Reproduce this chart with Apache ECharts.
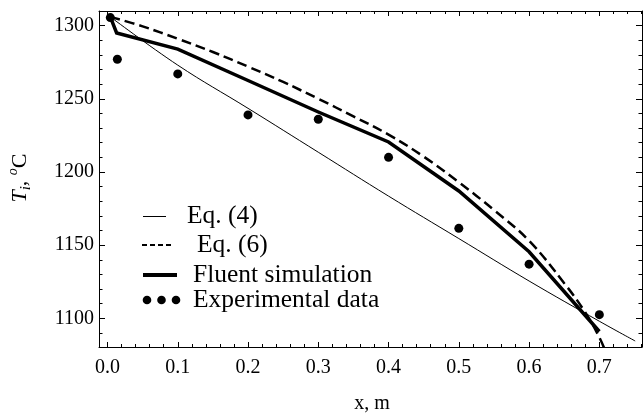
<!DOCTYPE html>
<html>
<head>
<meta charset="utf-8">
<script src="https://cdn.jsdelivr.net/npm/echarts@6/dist/echarts.min.js"></script>
<style>
  html, body { margin: 0; padding: 0; background: #fff; }
  #chart { width: 643px; height: 413px; }
</style>
</head>
<body>
<div id="chart"></div>
<script>
// Interface temperature T_i along the strand, x in metres

// Eq. (4): thin solid curve
const eq4X = [0.004, 0.1, 0.2, 0.3, 0.4, 0.5, 0.6, 0.7, 0.751];
const eq4T = [1306, 1273, 1243.5, 1213.5, 1183.5, 1154.5, 1125.5, 1098, 1084.5];

// Eq. (6): dashed curve
const eq6X = [0.004, 0.05, 0.1, 0.15, 0.2, 0.25, 0.3, 0.35, 0.4, 0.45, 0.5, 0.55, 0.6, 0.65, 0.68, 0.7, 0.71];
const eq6T = [1306, 1299.5, 1291, 1282, 1272, 1261.5, 1250, 1238, 1225.5, 1210.5, 1193, 1174, 1153, 1124, 1104, 1087, 1076];

// Fluent simulation: thick polyline
const fluentX = [0.004, 0.013, 0.1, 0.2, 0.3, 0.4, 0.5, 0.6, 0.7];
const fluentT = [1306, 1295, 1284, 1262.5, 1241, 1220.5, 1187, 1145.5, 1091];

// Experimental data: filled dots
const expX = [0.004, 0.014, 0.1, 0.2, 0.3, 0.4, 0.5, 0.6, 0.7];
const expT = [1305.5, 1277, 1267, 1239, 1236, 1210, 1161.5, 1137, 1102.5];

// Axis ranges and tick marks
const xMin = -0.0121, xMax = 0.7607;
const yMin = 1080.4, yMax = 1310;
const xMajor = [0, 0.1, 0.2, 0.3, 0.4, 0.5, 0.6, 0.7];
const xMinor = [0.02, 0.04, 0.06, 0.08, 0.12, 0.14, 0.16, 0.18, 0.22, 0.24, 0.26, 0.28,
                0.32, 0.34, 0.36, 0.38, 0.42, 0.44, 0.46, 0.48, 0.52, 0.54, 0.56, 0.58,
                0.62, 0.64, 0.66, 0.68, 0.72, 0.74, 0.76];
const yMajor = [1100, 1150, 1200, 1250, 1300];
const yMinor = [1090, 1110, 1120, 1130, 1140, 1160, 1170, 1180, 1190, 1210, 1220, 1230, 1240,
                1260, 1270, 1280, 1290, 1310];

const FONT = 'Liberation Serif';
const zip = (xs, ys) => xs.map((x, i) => [x, ys[i]]);

function xAxisDef(pos, ticks, len, labels, line) {
  return {
    type: 'value', position: pos, min: xMin, max: xMax,
    axisLine: { show: line, onZero: false, lineStyle: { color: '#000', width: 1 } },
    axisTick: { show: true, inside: true, length: len, customValues: ticks,
                lineStyle: { color: '#000', width: 1 } },
    axisLabel: labels ? { show: true, customValues: xMajor, margin: 11,
                          formatter: v => v.toFixed(1),
                          color: '#000', fontFamily: FONT, fontSize: 20 } : { show: false },
    splitLine: { show: false }
  };
}
function yAxisDef(pos, ticks, len, labels, line) {
  return {
    type: 'value', position: pos, min: yMin, max: yMax,
    axisLine: { show: line, onZero: false, lineStyle: { color: '#000', width: 1 } },
    axisTick: { show: true, inside: true, length: len, customValues: ticks,
                lineStyle: { color: '#000', width: 1 } },
    axisLabel: labels ? { show: true, customValues: yMajor, margin: 5,
                          formatter: v => String(Math.round(v)),
                          color: '#000', fontFamily: FONT, fontSize: 20 } : { show: false },
    splitLine: { show: false }
  };
}

// Legend rows drawn as graphic elements
const legendRows = [
  { y: 216.5, label: 'Eq. (4)', tx: 187 },
  { y: 245, label: 'Eq. (6)', tx: 197 },
  { y: 275, label: 'Fluent simulation', tx: 193 },
  { y: 300, label: 'Experimental data', tx: 193 }
];
const legendGraphics = [
  { type: 'line', shape: { x1: 143, y1: 216.5, x2: 166, y2: 216.5 },
    style: { stroke: '#000', lineWidth: 1 } },
  { type: 'line', shape: { x1: 142, y1: 245, x2: 172, y2: 245 },
    style: { stroke: '#000', lineWidth: 2, lineDash: [5, 3] } },
  { type: 'line', shape: { x1: 143, y1: 275, x2: 177, y2: 275 },
    style: { stroke: '#000', lineWidth: 4 } },
  { type: 'circle', shape: { cx: 147, cy: 300, r: 4.3 }, style: { fill: '#000' } },
  { type: 'circle', shape: { cx: 161.5, cy: 300, r: 4.3 }, style: { fill: '#000' } },
  { type: 'circle', shape: { cx: 176, cy: 300, r: 4.3 }, style: { fill: '#000' } }
].concat(legendRows.map(r => ({
  type: 'text', x: r.tx, y: r.y,
  style: { text: r.label, fill: '#000', font: '25.5px "' + FONT + '"', textVerticalAlign: 'middle' }
})));

const chart = echarts.init(document.getElementById('chart'), null, { renderer: 'canvas' });
chart.setOption({
  animation: false,
  backgroundColor: '#fff',
  grid: { left: 99, top: 11, width: 543, height: 336, containLabel: false },
  xAxis: [
    xAxisDef('bottom', xMajor, 5, true, true),
    xAxisDef('bottom', xMinor, 3, false, false),
    xAxisDef('top', xMajor, 5, false, true),
    xAxisDef('top', xMinor, 3, false, false)
  ],
  yAxis: [
    yAxisDef('left', yMajor, 6, true, true),
    yAxisDef('left', yMinor, 3.5, false, false),
    yAxisDef('right', yMajor, 6, false, true),
    yAxisDef('right', yMinor, 3.5, false, false)
  ],
  series: [
    { name: 'Eq. (4)', type: 'line', data: zip(eq4X, eq4T), smooth: 0.4,
      symbol: 'none', clip: true, lineStyle: { color: '#000', width: 1 } },
    { name: 'Eq. (6)', type: 'line', data: zip(eq6X, eq6T), smooth: 0.4,
      symbol: 'none', clip: true, lineStyle: { color: '#000', width: 2.5, type: [10, 5] } },
    { name: 'Fluent simulation', type: 'line', data: zip(fluentX, fluentT),
      symbol: 'none', clip: true, lineStyle: { color: '#000', width: 3.5, join: 'miter' } },
    { name: 'Experimental data', type: 'scatter', data: zip(expX, expT),
      symbol: 'circle', symbolSize: 9, itemStyle: { color: '#000', opacity: 1 } }
  ],
  graphic: legendGraphics.concat([
    { type: 'text', x: 372, y: 404,
      style: { text: 'x, m', fill: '#000', font: '20px "' + FONT + '"',
               textAlign: 'center', textVerticalAlign: 'middle' } },
    { type: 'text', x: 20, y: 178, rotation: Math.PI / 2,
      style: {
        text: '{t|T}{s|i}{n|, }{o|o}{n|C}',
        textAlign: 'center', textVerticalAlign: 'middle', fill: '#000',
        rich: {
          t: { fontFamily: FONT, fontSize: 22, fontStyle: 'italic', lineHeight: 28, verticalAlign: 'middle' },
          s: { fontFamily: FONT, fontSize: 15, fontStyle: 'italic', lineHeight: 14, verticalAlign: 'bottom' },
          n: { fontFamily: FONT, fontSize: 22, lineHeight: 28, verticalAlign: 'middle' },
          o: { fontFamily: FONT, fontSize: 14, fontStyle: 'italic', lineHeight: 14, verticalAlign: 'top' }
        }
      } }
  ])
});
</script>
</body>
</html>
